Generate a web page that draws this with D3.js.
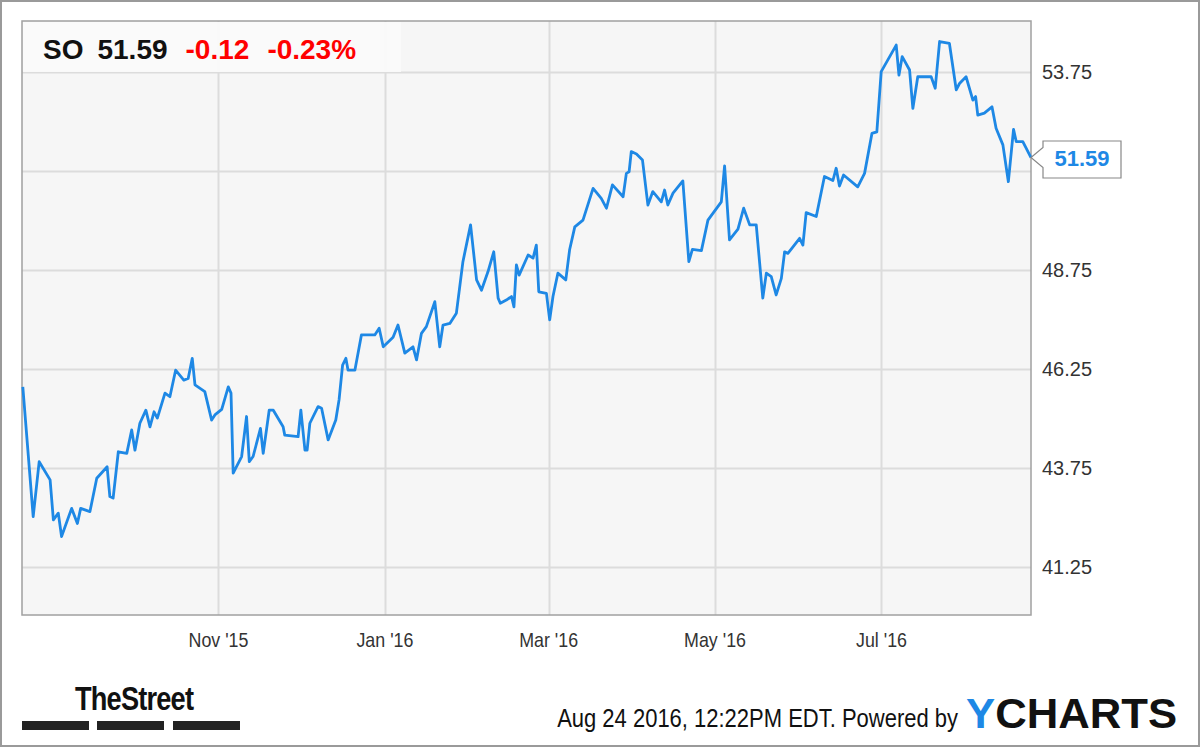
<!DOCTYPE html>
<html>
<head>
<meta charset="utf-8">
<script src="https://cdn.jsdelivr.net/npm/d3@7"></script>
<style>
  body { margin: 0; background: #fff; }
  svg { display: block; font-family: "Liberation Sans", Arial, sans-serif; }
</style>
</head>
<body>
<svg id="chart" width="1200" height="747"></svg>
<script>
// SO close prices; days counted from 2015-08-21
const startDate = new Date(2015, 7, 21);
const days = [0.3,4.1,6.3,10.3,11.5,13.3,14.5,18.2,20.3,21.5,24.9,27.4,31.2,32.2,33.4,35.3,38.4,40.2,41.4,43.2,
  45.4,46.9,48.4,49.6,52.4,54.2,56.3,59.3,60.9,62.4,63.4,67.0,69.5,70.7,73.2,75.6,76.6,77.4,80.5,82.3,
  83.3,84.7,87.4,88.4,90.6,92.1,95.7,96.3,101.2,102.2,103.7,104.5,105.5,108.5,109.8,112.2,115.0,116.2,117.5,118.7,
  119.5,122.0,124.4,129.3,130.9,132.4,136.0,137.8,140.3,143.3,144.6,146.4,148.2,151.3,153.1,154.3,156.8,159.2,161.6,164.4,
  166.6,168.4,170.8,172.9,174.5,175.3,177.5,179.4,180.3,181.2,182.2,185.5,187.3,188.5,189.4,192.2,193.4,194.6,196.4,199.3,
  200.7,202.6,205.6,209.3,212.3,214.2,216.4,220.3,221.5,222.5,223.3,225.2,227.4,229.4,231.2,234.3,235.5,236.7,238.6,242.2,
  244.4,245.7,249.0,251.4,256.3,257.5,259.3,262.4,264.5,266.7,269.1,271.5,272.8,274.6,276.4,278.3,279.5,280.7,285.0,286.2,
  287.4,291.1,294.1,297.2,298.4,299.6,301.1,306.3,308.8,311.5,313.3,314.9,320.4,321.4,322.6,325.3,326.5,328.3,333.2,334.7,
  336.3,339.9,342.4,343.6,346.0,348.5,349.5,350.3,352.7,355.5,357.0,359.5,361.5,363.4,364.4,366.8,369.8];
const prices = [45.80,42.52,43.91,43.45,42.44,42.61,42.02,42.73,42.35,42.73,42.65,43.49,43.78,43.03,42.99,44.16,44.12,44.71,44.20,44.88,
  45.21,44.79,45.17,45.01,45.64,45.55,46.22,45.97,46.01,46.52,45.85,45.68,44.96,45.09,45.23,45.80,45.64,43.62,44.04,45.05,
  43.91,44.04,44.75,44.12,45.21,45.21,44.79,44.58,44.54,45.21,44.20,44.20,44.88,45.30,45.26,44.46,44.96,45.47,46.35,46.52,
  46.22,46.22,47.11,47.11,47.28,46.81,47.05,47.36,46.65,46.81,46.48,47.15,47.32,47.95,46.81,47.36,47.40,47.66,48.96,49.89,
  48.50,48.24,48.71,49.21,48.04,47.91,47.99,48.08,47.82,48.88,48.62,49.13,49.05,49.38,48.20,48.16,47.49,48.08,48.67,48.50,
  49.26,49.84,50.01,50.81,50.56,50.31,50.90,50.60,51.19,51.23,51.74,51.68,51.53,50.39,50.73,50.47,50.77,50.39,50.69,51.00,
  48.96,49.27,49.24,50.01,50.47,51.38,49.51,49.78,50.31,49.89,49.89,48.04,48.67,48.58,48.12,48.54,49.21,49.17,49.55,49.38,
  50.20,50.10,51.11,51.01,51.32,50.87,51.15,50.85,51.19,52.20,52.24,53.76,54.43,53.67,54.14,53.80,52.83,53.63,53.63,53.34,
  54.52,54.47,53.30,53.46,53.63,53.04,53.13,52.66,52.71,52.87,52.33,51.91,50.98,52.30,51.99,51.99,51.59];
const yTicks = [41.25, 43.75, 46.25, 48.75, 51.25, 53.75];
const xTicks = [new Date(2015, 10, 1), new Date(2016, 0, 1), new Date(2016, 2, 1), new Date(2016, 4, 1), new Date(2016, 6, 1)];
const ticker = "SO", last = "51.59", change = "-0.12", changePct = "-0.23%";

const dayMs = 864e5;
const data = days.map((d, i) => ({date: new Date(+startDate + d * dayMs), value: prices[i]}));

const svg = d3.select("#chart");
const plot = {left: 22, right: 1031, top: 21, bottom: 615};

// condensed text: squeeze horizontally around an anchor point
function narrow(sel, x0, y0, k) {
    return sel.attr("transform", `translate(${x0},${y0}) scale(${k},1)`).attr("x", 0).attr("y", 0);
}

svg.append("rect").attr("x", 1).attr("y", 1).attr("width", 1198).attr("height", 745)
    .attr("fill", "#fff").attr("stroke", "#9a9a9a").attr("stroke-width", 2);

const x = d3.scaleTime()
    .domain([startDate, new Date(+startDate + 369.8 * dayMs)])
    .range([plot.left, plot.right]);
const y = d3.scaleLinear()
    .domain([53.75 + 51 / 39.6, 53.75 - (615 - 72) / 39.6])
    .range([plot.top, plot.bottom]);

svg.append("rect")
    .attr("x", plot.left).attr("y", plot.top)
    .attr("width", plot.right - plot.left).attr("height", plot.bottom - plot.top)
    .attr("fill", "#f6f6f6");

svg.append("g").selectAll("line").data(yTicks).join("line")
    .attr("x1", plot.left).attr("x2", plot.right)
    .attr("y1", d => Math.round(y(d)) + 0.5).attr("y2", d => Math.round(y(d)) + 0.5)
    .attr("stroke", "#dcdcdc").attr("stroke-width", 2);
svg.append("g").selectAll("line").data(xTicks).join("line")
    .attr("x1", d => Math.round(x(d)) + 0.5).attr("x2", d => Math.round(x(d)) + 0.5)
    .attr("y1", plot.top).attr("y2", plot.bottom)
    .attr("stroke", "#dcdcdc").attr("stroke-width", 2);

svg.append("rect")
    .attr("x", plot.left).attr("y", plot.top)
    .attr("width", plot.right - plot.left).attr("height", plot.bottom - plot.top)
    .attr("fill", "none").attr("stroke", "#a0a0a0").attr("stroke-width", 1.5);

// 51.25 sits under the callout in the reference, so it is left out here
svg.append("g").selectAll("text").data(yTicks.filter(d => d !== 51.25)).join("text")
    .attr("x", 1042).attr("y", d => y(d) + 7)
    .attr("font-size", 20).attr("fill", "#333")
    .text(d => d3.format(".2f")(d));
svg.append("g").selectAll("text").data(xTicks).join("text")
    .each(function(d) { narrow(d3.select(this), x(d), 647, 0.85); })
    .attr("text-anchor", "middle").attr("font-size", 21).attr("fill", "#333")
    .text(d => d3.timeFormat("%b '%y")(d));

svg.append("path").datum(data)
    .attr("fill", "none").attr("stroke", "#1e88e5").attr("stroke-width", 2.8)
    .attr("stroke-linejoin", "round")
    .attr("d", d3.line().x(d => x(d.date)).y(d => y(d.value)));

// header box
svg.append("rect").attr("x", plot.left + 1).attr("y", plot.top + 1).attr("width", 378).attr("height", 50)
    .attr("fill", "#fafafa").attr("opacity", 0.95);
const hdr = svg.append("text").attr("x", 43).attr("y", 59).attr("font-size", 28).attr("font-weight", "bold");
hdr.append("tspan").attr("fill", "#111").text(ticker);
hdr.append("tspan").attr("fill", "#111").attr("dx", 14).text(last);
hdr.append("tspan").attr("fill", "#f00").attr("dx", 18).text(change);
hdr.append("tspan").attr("fill", "#f00").attr("dx", 18).text(changePct);

// last value callout
const ly = y(prices[prices.length - 1]);
svg.append("path")
    .attr("d", `M${plot.right},${ly} L1043,${ly - 10} L1043,141 L1121,141 L1121,178 L1043,178 L1043,${ly + 10} Z`)
    .attr("fill", "#fff").attr("stroke", "#888").attr("stroke-width", 1.2);
svg.append("text").attr("x", 1082).attr("y", ly + 8).attr("text-anchor", "middle")
    .attr("font-size", 22).attr("font-weight", "bold").attr("fill", "#1e88e5").text(last);

// footer
narrow(svg.append("text"), 75, 710, 0.8)
    .attr("font-size", 34).attr("font-weight", "bold").attr("fill", "#111")
    .attr("letter-spacing", -1).text("TheStreet");
svg.append("g").selectAll("rect").data([22, 97, 173]).join("rect")
    .attr("x", d => d).attr("y", 721).attr("width", 67).attr("height", 9).attr("fill", "#222");
narrow(svg.append("text"), 958, 727, 0.88).attr("text-anchor", "end")
    .attr("font-size", 25).attr("fill", "#111").text("Aug 24 2016, 12:22PM EDT.  Powered by");
const yc = narrow(svg.append("text"), 966, 728, 1.04).attr("font-size", 42).attr("font-weight", "bold");
yc.append("tspan").attr("fill", "#1e88e5").text("Y");
yc.append("tspan").attr("fill", "#111").text("CHARTS");
</script>
</body>
</html>
